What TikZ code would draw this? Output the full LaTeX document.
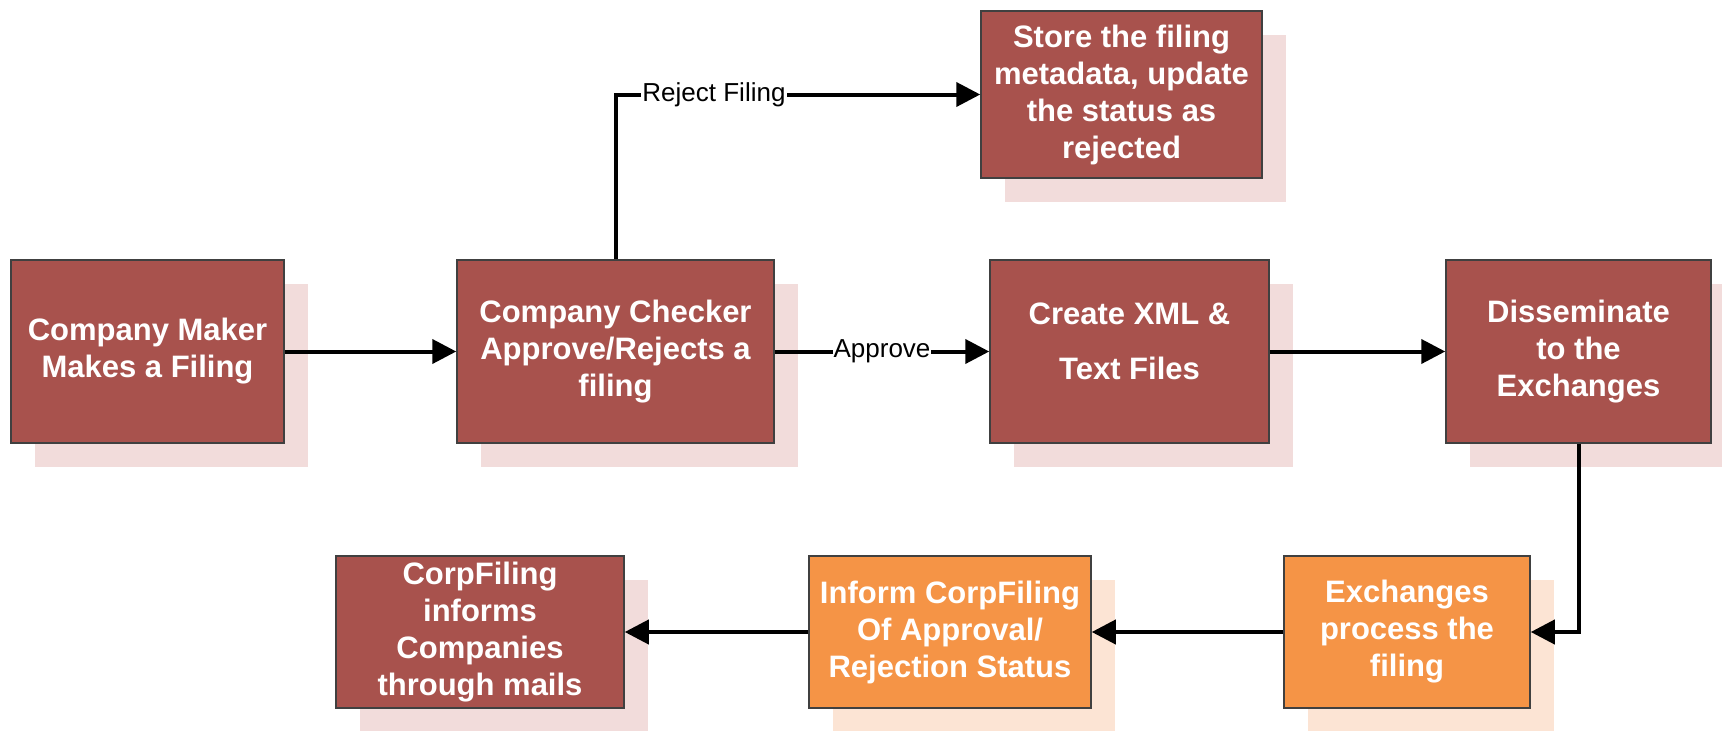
\documentclass[tikz,border=0pt]{standalone}
\usepackage{fontspec}
\setmainfont{Liberation Sans}
\usetikzlibrary{arrows.meta,shadows}

\definecolor{boxred}{RGB}{168,82,77}
\definecolor{boxorange}{RGB}{245,148,70}
\definecolor{pinkshade}{RGB}{242,220,219}
\definecolor{peachshade}{RGB}{252,228,212}

\begin{document}
\begin{tikzpicture}[x=1pt,y=-1pt,
  >={Triangle[length=24pt,width=24pt]},
  box/.style={draw=black!75,line width=1.5pt,text=white,inner sep=0pt,align=center,
    font=\fontsize{31}{37}\selectfont\bfseries},
  redbox/.style={box,fill=boxred,
    drop shadow={shadow xshift=24pt,shadow yshift=-24pt,fill=pinkshade,opacity=1}},
  orangebox/.style={box,fill=boxorange,
    drop shadow={shadow xshift=24pt,shadow yshift=-24pt,fill=peachshade,opacity=1}},
  flow/.style={->,line width=4pt},
  lbl/.style={fill=white,inner sep=1pt,font=\fontsize{26}{30}\selectfont}]
\useasboundingbox (0,0) rectangle (1722,731);

% top: rejected filing
\node[redbox,minimum width=281pt,minimum height=167pt] (store) at (1121.5,94.5)
  {Store the filing\\metadata, update\\the status as\\rejected};

% middle row
\node[redbox,minimum width=273pt,minimum height=183pt] (maker) at (147.5,351.5)
  {Company Maker\\Makes a Filing};
\node[redbox,minimum width=317pt,minimum height=183pt] (checker) at (615.5,351.5)
  {Company Checker\\Approve/Rejects a\\filing};
\node[redbox,minimum width=279pt,minimum height=183pt] (xml) at (1129.5,351.5)
  {Create XML \&\\[18pt]Text Files\\[-17pt]\mbox{}};
\node[redbox,minimum width=265pt,minimum height=183pt] (dissem) at (1578.5,351.5)
  {Disseminate\\to the\\Exchanges};

% bottom row
\node[orangebox,minimum width=246pt,minimum height=152pt] (exch) at (1407,632)
  {Exchanges\\process the\\filing};
\node[orangebox,minimum width=282pt,minimum height=152pt] (inform) at (950,632)
  {Inform CorpFiling\\Of Approval/\\Rejection Status};
\node[redbox,minimum width=288pt,minimum height=152pt] (mails) at (480,632)
  {CorpFiling\\informs\\Companies\\through mails};

% connectors
\draw[flow] (maker) -- (checker);
\draw[flow] (checker.north) |- (store.west) node[lbl,pos=.635]{Reject Filing};
\draw[flow] (checker) -- (xml) node[lbl,midway]{Approve};
\draw[flow] (xml) -- (dissem);
\draw[flow] (dissem.south) |- (exch.east);
\draw[flow] (exch) -- (inform);
\draw[flow] (inform) -- (mails);
\end{tikzpicture}
\end{document}
